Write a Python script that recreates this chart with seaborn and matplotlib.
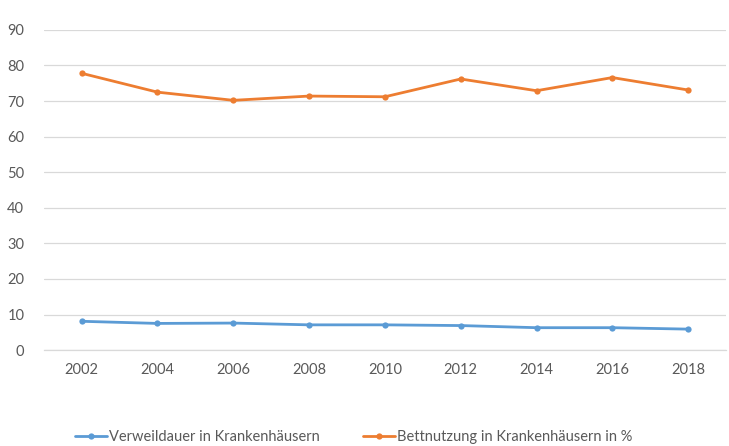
import pandas as pd
import matplotlib.pyplot as plt
import seaborn as sns

# data
years = ["2002", "2004", "2006", "2008", "2010", "2012", "2014", "2016", "2018"]
verweildauer = [8.1, 7.5, 7.6, 7.1, 7.1, 6.9, 6.3, 6.3, 5.9]
bettnutzung = [77.8, 72.5, 70.2, 71.4, 71.2, 76.2, 72.9, 76.6, 73.1]
series_names = ["Verweildauer in Krankenhäusern", "Bettnutzung in Krankenhäusern in %"]
yticks = list(range(0, 100, 10))

COLORS = {series_names[0]: "#5B9BD5", series_names[1]: "#ED7D31"}

sns.set_theme(style="white")
plt.rcParams["font.family"] = ["Lato", "DejaVu Sans"]

df = pd.concat([
    pd.DataFrame({"Jahr": years, "Wert": verweildauer, "Reihe": series_names[0]}),
    pd.DataFrame({"Jahr": years, "Wert": bettnutzung, "Reihe": series_names[1]}),
], ignore_index=True)

fig = plt.figure(figsize=(7.29, 4.46), dpi=100)
ax = fig.add_axes([0.060, 0.215, 0.936, 0.718])

sns.lineplot(data=df, x="Jahr", y="Wert", hue="Reihe", palette=COLORS,
             marker="o", markersize=4.5, markeredgewidth=0, linewidth=2.0,
             ax=ax, legend=True)

ax.set_xlim(-0.5, len(years) - 0.5)
ax.set_ylim(0, 90)
ax.set_yticks(yticks)
ax.set_xlabel("")
ax.set_ylabel("")
ax.grid(axis="y", color="#D9D9D9", linewidth=0.9)
ax.set_axisbelow(True)
for side in ["top", "right", "left"]:
    ax.spines[side].set_visible(False)
ax.spines["bottom"].set_color("#D9D9D9")
ax.spines["bottom"].set_linewidth(0.9)
ax.tick_params(axis="both", length=0, labelsize=10.5, labelcolor="#595959")
ax.tick_params(axis="x", pad=9)
ax.tick_params(axis="y", pad=14)

handles, labels = ax.get_legend_handles_labels()
ax.get_legend().remove()
fig.legend(handles, labels, loc="lower center", bbox_to_anchor=(0.485, -0.025),
           ncol=2, frameon=False, fontsize=10.5, labelcolor="#595959",
           handlelength=2.2, handletextpad=0.1, columnspacing=3.0)

fig.savefig("out.png", dpi=100)
